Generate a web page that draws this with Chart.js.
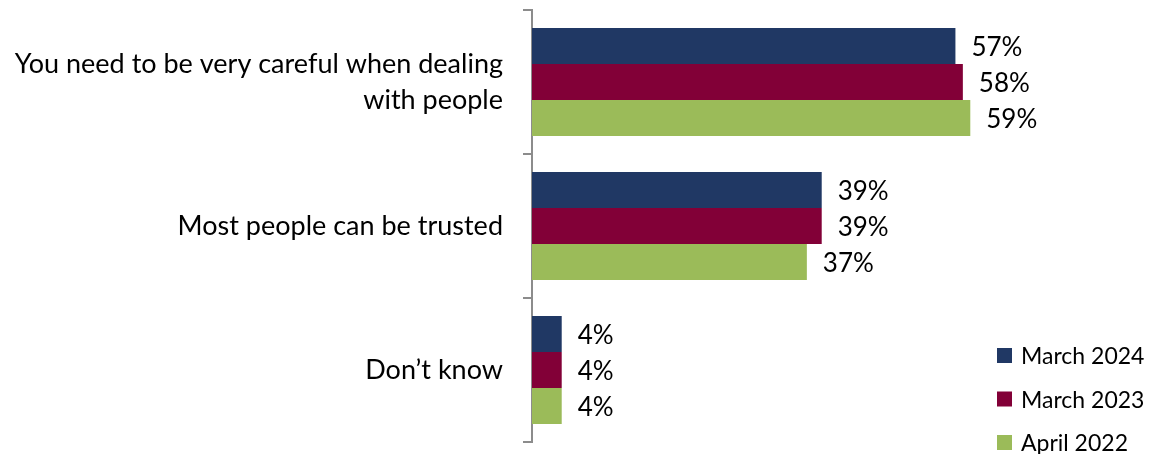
<!DOCTYPE html>
<html>
<head>
<meta charset="utf-8">
<script src="https://cdn.jsdelivr.net/npm/chart.js@4"></script>
<style>
  html, body { margin: 0; padding: 0; background: #fff; }
  #wrap { width: 1156px; height: 454px; position: relative; }
</style>
</head>
<body>
<div id="wrap"><canvas id="trustChart"></canvas></div>
<script>
const categories = [
    ["You need to be very careful when dealing", "with people"],
    "Most people can be trusted",
    "Don\u2019t know"
];
const seriesNames = ["March 2024", "March 2023", "April 2022"];
const march2024 = [57, 39, 4];
const march2023 = [58, 39, 4];
const april2022 = [59, 37, 4];
const seriesColors = ["#203864", "#820037", "#9BBB59"];

const FONT = "Lato, 'Open Sans', sans-serif";

//Writes the percentage just past the end of every bar
const valueLabels = {
    id: "valueLabels",
    afterDatasetsDraw(chart) {
        const ctx = chart.ctx;
        ctx.save();
        ctx.font = "26px " + FONT;
        ctx.fillStyle = "#000";
        ctx.textBaseline = "middle";
        ctx.textAlign = "left";
        chart.data.datasets.forEach((ds, i) => {
            chart.getDatasetMeta(i).data.forEach((bar, j) => {
                ctx.fillText(ds.data[j] + "%", bar.x + 16, bar.y + 2);
            });
        });
        ctx.restore();
    }
};

//Legend in the lower right corner, over the empty part of the plot
const cornerLegend = {
    id: "cornerLegend",
    afterDraw(chart) {
        const ctx = chart.ctx;
        ctx.save();
        ctx.font = "23px " + FONT;
        ctx.textBaseline = "middle";
        ctx.textAlign = "left";
        chart.data.datasets.forEach((ds, i) => {
            const y = 356 + i * 43.5;
            ctx.fillStyle = ds.backgroundColor;
            ctx.fillRect(997, y - 8, 15, 15);
            ctx.fillStyle = "#000";
            ctx.fillText(ds.label, 1021, y + 1);
        });
        ctx.restore();
    }
};

const datasets = [march2024, march2023, april2022].map((values, i) => ({
    label: seriesNames[i],
    data: values,
    backgroundColor: seriesColors[i],
    categoryPercentage: 0.75,
    barPercentage: 1.0
}));

new Chart(document.getElementById("trustChart"), {
    type: "bar",
    data: { labels: categories, datasets },
    plugins: [valueLabels, cornerLegend],
    options: {
        indexAxis: "y",
        responsive: true,
        maintainAspectRatio: false,
        animation: false,
        layout: { padding: { top: 10, bottom: 12, right: 0, left: 0 } },
        plugins: {
            legend: { display: false },
            tooltip: { enabled: false }
        },
        scales: {
            x: {
                display: false,
                min: 0,
                max: 84
            },
            y: {
                afterFit(axis) {
                    axis.width = 532;
                    //labels sit inside their bands, no extra room above or below
                    axis.paddingTop = 0;
                    axis.paddingBottom = 0;
                },
                border: { color: "#8c8c8c", width: 2 },
                grid: {
                    offset: true,
                    drawOnChartArea: false,
                    drawTicks: true,
                    tickLength: 9,
                    color: "#8c8c8c",
                    lineWidth: 2
                },
                ticks: {
                    color: "#000",
                    padding: 20,
                    font: { family: FONT, size: 27, lineHeight: 1.33 }
                }
            }
        }
    }
});
</script>
</body>
</html>
